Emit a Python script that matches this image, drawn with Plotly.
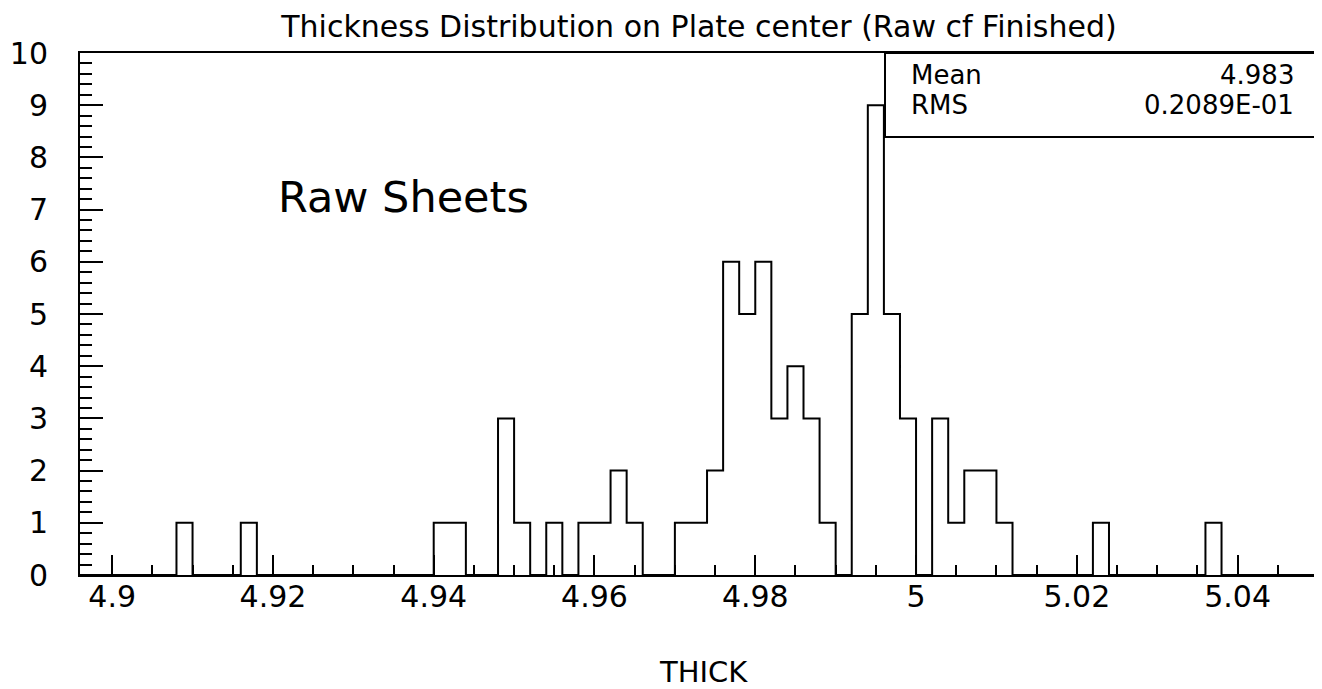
import numpy as np
import plotly.graph_objects as go

# ---- data ----
x_min, x_max, bin_width = 4.896, 5.05, 0.002
bin_low = [4.908, 4.916, 4.940, 4.942, 4.948, 4.950, 4.954, 4.958, 4.960, 4.962,
           4.964, 4.970, 4.972, 4.974, 4.976, 4.978, 4.980, 4.982, 4.984, 4.986,
           4.988, 4.992, 4.994, 4.996, 4.998, 5.002, 5.004, 5.006, 5.008, 5.010,
           5.022, 5.036]
counts = [1, 1, 1, 1, 3, 1, 1, 1, 1, 2,
          1, 1, 1, 2, 6, 5, 6, 3, 4, 3,
          1, 5, 9, 5, 3, 3, 1, 2, 2, 1,
          1, 1]
x_tick_vals = [4.9, 4.92, 4.94, 4.96, 4.98, 5.0, 5.02, 5.04]
x_tick_text = ["4.9", "4.92", "4.94", "4.96", "4.98", "5", "5.02", "5.04"]
y_tick_vals = list(range(0, 11))
stats_labels = ["Mean", "RMS"]
stats_values = ["4.983", "0.2089E-01"]
title_text = "Thickness Distribution on Plate center (Raw cf Finished)"
x_title = "THICK"
note_text = "Raw Sheets"

# ---- build full histogram ----
n_bins = int(round((x_max - x_min) / bin_width))
edges = x_min + bin_width * np.arange(n_bins + 1)
full = np.zeros(n_bins)
for lo, c in zip(bin_low, counts):
    full[int(round((lo - x_min) / bin_width))] = c
step_y = np.append(full, full[-1])

FONT = "DejaVu Sans"
BODY = 8                      # default page body margin of the browser
PAGE_W, PAGE_H = 1322, 689
W, H = PAGE_W - BODY, PAGE_H - BODY
# plot frame in page pixels: x 80..1318, y 53..575
L, T = 80 - BODY, 53 - BODY
R = PAGE_W - 1318
B = PAGE_H - 575
PW, PH = 1318 - 80, 575 - 53


def px(xp):
    return (xp - 80) / PW


def py(yp):
    return (575 - yp) / PH


fig = go.Figure()
fig.add_trace(go.Scatter(x=edges, y=step_y, mode="lines", line_shape="hv",
                         line=dict(color="black", width=2), hoverinfo="skip",
                         showlegend=False))

# stats box
fig.add_shape(type="rect", xref="paper", yref="paper", x0=px(885), x1=1.0,
              y0=py(137), y1=1.0, line=dict(color="black", width=2),
              fillcolor="white", layer="above")
for i, (lab, val) in enumerate(zip(stats_labels, stats_values)):
    yy = py(75 + 30 * i)
    fig.add_annotation(xref="paper", yref="paper", x=px(909), y=yy, text=lab,
                       showarrow=False, xanchor="left", yanchor="middle",
                       font=dict(family=FONT, size=26, color="black"))
    fig.add_annotation(xref="paper", yref="paper", x=px(1296), y=yy, text=val,
                       showarrow=False, xanchor="right", yanchor="middle",
                       font=dict(family=FONT, size=26, color="black"))

fig.add_annotation(xref="paper", yref="paper", x=px(276), y=py(197),
                   text=note_text, showarrow=False, xanchor="left",
                   yanchor="middle", font=dict(family=FONT, size=43, color="black"))

fig.add_annotation(xref="paper", yref="paper", x=px(703), y=py(672),
                   text=x_title, showarrow=False, xanchor="center",
                   yanchor="middle", font=dict(family=FONT, size=29, color="black"))

fig.update_layout(
    width=W, height=H,
    margin=dict(l=L, r=R, t=T, b=B, autoexpand=False),
    paper_bgcolor="white", plot_bgcolor="white",
    title=dict(text=title_text, x=px(699), xref="paper",
               y=1 - (26 - BODY) / H, yref="container", yanchor="middle",
               xanchor="center",
               font=dict(family=FONT, size=30, color="black")),
    font=dict(family=FONT, color="black"),
)
fig.update_xaxes(range=[x_min, x_max], tickvals=x_tick_vals, ticktext=x_tick_text,
                 ticks="inside", ticklen=20, tickwidth=2, tickcolor="black",
                 showline=True, linecolor="black", linewidth=2, mirror=True,
                 showgrid=False, zeroline=False, ticklabelstandoff=-6,
                 automargin=False,
                 tickfont=dict(family=FONT, size=30, color="black"),
                 minor=dict(dtick=0.005, tick0=4.9, ticks="inside", ticklen=10,
                            tickwidth=2, tickcolor="black", showgrid=False))
fig.update_yaxes(range=[0, 10], tickvals=y_tick_vals,
                 ticktext=[str(v) for v in y_tick_vals],
                 ticks="inside", ticklen=23, tickwidth=2, tickcolor="black",
                 showline=True, linecolor="black", linewidth=2, mirror=True,
                 showgrid=False, zeroline=False, ticklabelstandoff=24,
                 automargin=False,
                 tickfont=dict(family=FONT, size=30, color="black"),
                 minor=dict(dtick=0.2, tick0=0, ticks="inside", ticklen=12,
                            tickwidth=2, tickcolor="black", showgrid=False))

fig.write_html("out.html")
